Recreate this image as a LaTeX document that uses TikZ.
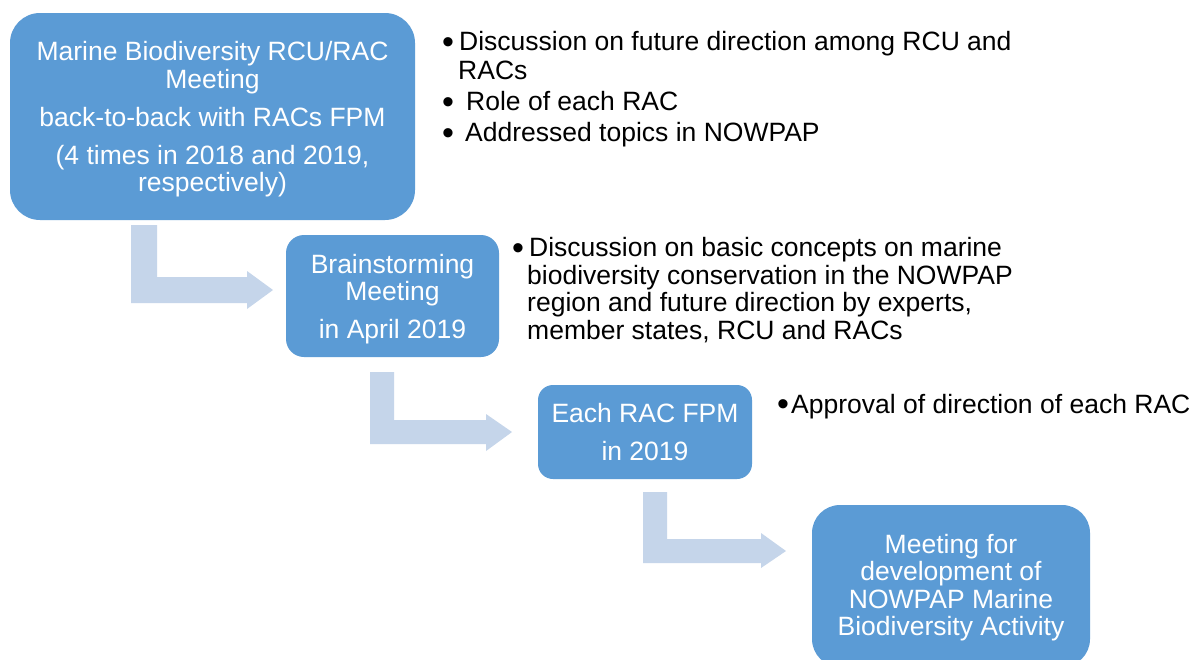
\documentclass[tikz,border=0pt]{standalone}
\usepackage{fontspec}
\setmainfont{Liberation Sans}
\definecolor{boxblue}{HTML}{5B9BD5}
\definecolor{arrowblue}{HTML}{C5D5EA}
\newcommand\bigfont{\fontsize{26.5}{27.5}\selectfont}
\newcommand\bulfont{\fontsize{34}{34}\selectfont}
\begin{document}
\begin{tikzpicture}[x=1pt,y=-1pt,
  box/.style={fill=boxblue, text=white, align=center, font=\bigfont, inner sep=0pt},
  bentarrow/.style={fill=arrowblue, draw=none},
  bul/.style={anchor=base west, inner sep=0pt, font=\bulfont},
  txt/.style={anchor=base west, inner sep=0pt, font=\bigfont}]
\clip (0,0) rectangle (1193,659);
\fill[white] (0,0) rectangle (1193,659);
% bent arrows
\fill[bentarrow] (131,225) -- (157,225) -- (157,277) -- (247,277) -- (247,271) -- (273,290) -- (247,309) -- (247,303) -- (131,303) -- cycle;
\fill[bentarrow] (370,372) -- (394,372) -- (394,420) -- (486,420) -- (486,414) -- (512,432) -- (486,451) -- (486,444) -- (370,444) -- cycle;
\fill[bentarrow] (643,492) -- (667,492) -- (667,539) -- (761,539) -- (761,533) -- (786,551) -- (761,568) -- (761,563) -- (643,563) -- cycle;
% boxes
\node[box, rounded corners=30pt, minimum width=405pt, minimum height=207pt] (b1) at (212.5,116.5)
  {\rule{0pt}{25pt}Marine Biodiversity RCU/RAC\\Meeting\\[10.5pt]back-to-back with RACs FPM\\[10.5pt](4 times in 2018 and 2019,\\respectively)};
\node[box, rounded corners=18pt, minimum width=213pt, minimum height=122pt] (b2) at (392.5,296)
  {\rule{0pt}{25pt}Brainstorming\\Meeting\\[10.5pt]in April 2019};
\node[box, rounded corners=15pt, minimum width=214pt, minimum height=94pt] (b3) at (645,432)
  {Each RAC FPM\\[10.5pt]in 2019};
\node[box, rounded corners=28pt, minimum width=278pt, minimum height=162pt] (b4) at (951,586)
  {\rule{0pt}{22pt}Meeting for\\development of\\NOWPAP Marine\\Biodiversity Activity};
% bullet texts
\node[bul] (d1) at (442,53.5) {•};
\node[txt] (l1) at (459,50.7) {Discussion on future direction among RCU and};
\node[txt] (l2) at (458,79) {RACs};
\node[bul] (d2) at (442,113.5) {•};
\node[txt] (l3) at (466,110.7) {Role of each RAC};
\node[bul] (d3) at (442,144.5) {•};
\node[txt] (l4) at (465,141.7) {Addressed topics in NOWPAP};
\node[bul] (d4) at (512,259.5) {•};
\node[txt] (l5) at (529,256.7) {Discussion on basic concepts on marine};
\node[txt] (l6) at (527,284) {biodiversity conservation in the NOWPAP};
\node[txt] (l7) at (527,311.7) {region and future direction by experts,};
\node[txt] (l8) at (527,339) {member states, RCU and RACs};
\node[bul] (d5) at (777,415.8) {•};
\node[txt] (l9) at (791,413) {Approval of direction of each RAC};
\end{tikzpicture}
\end{document}
